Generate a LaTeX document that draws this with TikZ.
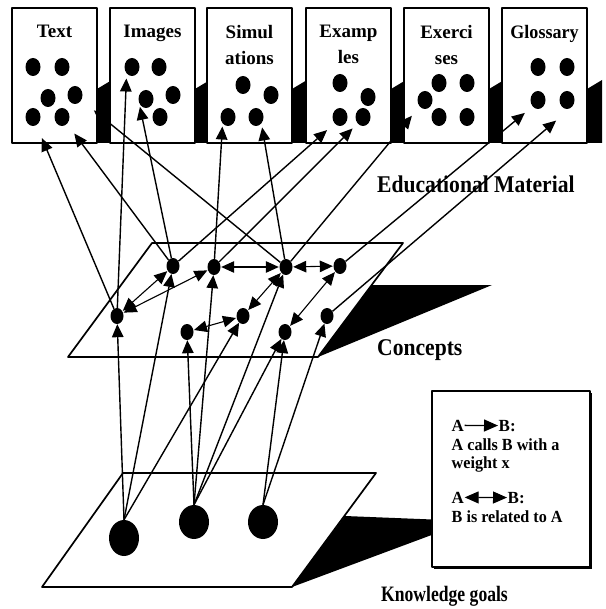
\documentclass[tikz,border=0pt]{standalone}
\usepackage{fontspec}
\setmainfont{Liberation Serif}
\usetikzlibrary{arrows.meta,shapes.geometric}

\begin{document}
\begin{tikzpicture}[x=1pt, y=-1pt, line join=round,
  bighead/.tip={Triangle[length=13pt,width=11.5pt]},
  lghead/.tip={Triangle[length=14pt,width=12pt]},
  link/.style={line width=1.4pt, -bighead},
  rel/.style={line width=1.1pt, bighead-bighead, shorten <=0.5pt, shorten >=0.5pt},
  card/.style={draw, line width=1.7pt, fill=white, minimum width=85pt, minimum height=135pt, inner sep=0pt},
  cardlbl/.style={font=\fontsize{19}{26}\selectfont\bfseries, align=center, anchor=north, inner sep=0pt},
  mdot/.style={ellipse, fill=black, minimum width=15pt, minimum height=18pt, inner sep=0pt},
  cdot/.style={ellipse, fill=black, minimum width=13pt, minimum height=16pt, inner sep=0pt},
  goal/.style={ellipse, fill=black, minimum width=30pt, minimum height=34pt, inner sep=0pt},
  plane/.style={draw, fill=white, line width=1.7pt},
  layer/.style={font=\fontsize{24}{28}\selectfont\bfseries, anchor=base west, inner sep=0pt},
  legtxt/.style={font=\fontsize{17}{20}\selectfont\bfseries, anchor=base west, inner sep=0.5pt},
]
\useasboundingbox (0,0) rectangle (605,609);
\fill[white] (0,0) rectangle (605,609);

% shadows of the two planes
\fill (318,357) -- (372,285) -- (492,285) -- cycle;
\fill (292,587) -- (345,516) -- (445,520) -- (445,530) -- cycle;

% the two planes
\path[plane] (68,357) -- (152,243) -- (403,243) -- (318,357) -- cycle;
\path[plane] (42,587) -- (123,473) -- (376,473) -- (292,587) -- cycle;

% material cards with their shadows
\foreach \l/\n in {12/cText, 110/cImg, 207/cSim, 306/cExa, 404/cExe, 502/cGlo}{
  \fill (\l+85,143) -- (\l+85,89) -- (\l+100,80) -- (\l+100,143) -- cycle;
  \node[card] (\n) at (\l+42.5,75.5) {};
}
\node[cardlbl] (lText) at (54.5,25) {Text};
\node[cardlbl] (lImg)  at (152.5,25) {Images};
\node[cardlbl] (lSim)  at (249.5,25) {Simul\\ations};
\node[cardlbl] (lExa)  at (348.5,25) {Examp\\les};
\node[cardlbl] (lExe)  at (446.5,25) {Exerci\\ses};
\node[cardlbl] (lGlo)  at (544.5,25) {\scalebox{0.95}[1]{Glossary}};

% items on the cards
\node[mdot] (t1) at (33,67) {};  \node[mdot] (t2) at (62,67) {};
\node[mdot] (t3) at (48,98) {};  \node[mdot] (t4) at (75,95) {};
\node[mdot] (t5) at (33,117) {}; \node[mdot] (t6) at (62,117) {};
\node[mdot] (i1) at (132,67) {}; \node[mdot] (i2) at (159,67) {};
\node[mdot] (i3) at (146,99) {}; \node[mdot] (i4) at (173,95) {};
\node[mdot] (i5) at (160,117) {};
\node[mdot] (s1) at (243,85) {}; \node[mdot] (s2) at (271,95) {};
\node[mdot] (s3) at (228,117) {}; \node[mdot] (s4) at (256,117) {};
\node[mdot] (e1) at (340,83) {}; \node[mdot] (e2) at (368,97) {};
\node[mdot] (e3) at (340,117) {}; \node[mdot] (e4) at (363,117) {};
\node[mdot] (x1) at (439,83) {}; \node[mdot] (x2) at (467,83) {};
\node[mdot] (x3) at (425,100) {}; \node[mdot] (x4) at (439,117) {};
\node[mdot] (x5) at (467,117) {};
\node[mdot] (g1) at (538,67) {}; \node[mdot] (g2) at (567,67) {};
\node[mdot] (g3) at (538,100) {}; \node[mdot] (g4) at (567,100) {};

% concepts
\node[cdot] (c1) at (117,316) {};
\node[cdot] (c2) at (173,266) {};
\node[cdot] (c3) at (214,267) {};
\node[cdot] (c4) at (286,267) {};
\node[cdot] (c5) at (340,266) {};
\node[cdot] (c6) at (187,332) {};
\node[cdot] (c7) at (243,316) {};
\node[cdot] (c8) at (285,332) {};
\node[cdot] (c9) at (327,316) {};

% knowledge goals
\node[goal, minimum height=36pt] (k1) at (124,538) {};
\node[goal] (k2) at (194,522) {};
\node[goal] (k3) at (263,522) {};

% concepts call educational material
\draw[link, shorten >=14pt] (c1) -- (t5);
\draw[link, shorten >=12pt] (c2) -- (t6);
\draw[link, shorten >=16pt] (c4) -- (t4);
\draw[link, shorten >=5pt]  (c1) -- (i1.south west);
\draw[link, shorten >=8pt]  (c2) -- (i3.west);
\draw[link, shorten >=3pt]  (c3) -- (s3.south west);
\draw[link, shorten >=4pt]  (c4) -- (s4.south east);
\draw[link, shorten >=10pt] (c2) -- (e3.south west);
\draw[link, shorten >=7pt]  (c3) -- (e4.south west);
\draw[link, shorten >=12pt] (c4) -- (x3.south west);
\draw[link, shorten >=10pt] (c5) -- (g3.south west);
\draw[link, shorten >=20pt] (c9) -- (g4.-60);

% knowledge goals call concepts
\draw[link] (k1.north) -- (c1);
\draw[link] (k1.north) -- (c2);
\draw[link] (k1.north) -- (c7);
\draw[link] (k2.north) -- (c6);
\draw[link] (k2.north) -- (c3);
\draw[link] (k2.north) -- (c4);
\draw[link] (k2.north) -- (c8);
\draw[link] (k3.north) -- (c8);
\draw[link] (k3.north) -- (c9);

% relations between concepts
\draw[rel] (c1) -- (c2);
\draw[rel] (c1) -- (c3);
\draw[rel] (c3) -- (c4);
\draw[rel] (c4) -- (c5);
\draw[rel] (c6) -- (c7);
\draw[rel] (c7) -- (c4);
\draw[rel] (c8) -- (c5);

% layer names
\node[layer] (tEdu) at (377,193) {\scalebox{0.9}[1]{Educational Material}};
\node[layer] (tCon) at (377,355) {\scalebox{0.9}[1]{Concepts}};
\node[layer] (tKno) at (381,601) {\scalebox{0.8}[1]{\fontsize{22}{26}\selectfont Knowledge goals}};

% legend
\fill (434,393) rectangle (592,569);
\node[draw, fill=white, line width=1.4pt, minimum width=158pt, minimum height=176pt, inner sep=0pt] (legend) at (511,479) {};
\node[legtxt] (la1) at (451,431) {A};
\node[legtxt] (lb1) at (498,431) {B:};
\draw[line width=1.3pt, -lghead] (la1.east) -- (lb1.west);
\node[legtxt] (ld1) at (451,450) {\scalebox{0.95}[1]{A calls B with a}};
\node[legtxt] (ld2) at (451,468) {\scalebox{0.95}[1]{weight x}};
\node[legtxt] (la2) at (451,503) {A};
\node[legtxt] (lb2) at (507,503) {B:};
\draw[line width=1.1pt, lghead-lghead] (la2.east) -- (lb2.west);
\node[legtxt] (ld3) at (451,522) {\scalebox{0.95}[1]{B is related to A}};
\end{tikzpicture}
\end{document}
